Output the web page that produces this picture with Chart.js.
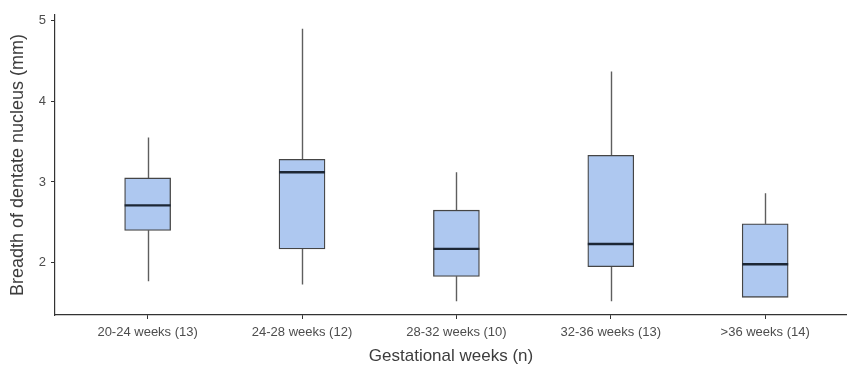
<!DOCTYPE html>
<html>
<head>
<meta charset="utf-8">
<script src="https://cdn.jsdelivr.net/npm/chart.js@4"></script>
<style>
  body { margin: 0; background: #fff; }
  #wrap { width: 847px; height: 367px; }
</style>
</head>
<body>
<div id="wrap"><canvas id="chart"></canvas></div>
<script>
// values (mm)
const categories = ['20-24 weeks (13)', '24-28 weeks (12)', '28-32 weeks (10)', '32-36 weeks (13)', '>36 weeks (14)'];
const whiskerLow = [1.77, 1.73, 1.52, 1.52, 1.57];
const q1 = [2.40, 2.17, 1.83, 1.95, 1.57];
const median = [2.71, 3.12, 2.17, 2.23, 1.98];
const q3 = [3.05, 3.28, 2.65, 3.33, 2.48];
const whiskerHigh = [3.55, 4.90, 3.12, 4.37, 2.86];
const yTicks = [2, 3, 4, 5];

const FONT = "'Liberation Sans', Arial, sans-serif";

// whiskers go behind the boxes, medians on top
const boxParts = {
  id: 'boxParts',
  beforeDatasetsDraw(chart) {
    const { ctx, scales: { x, y } } = chart;
    ctx.save();
    ctx.strokeStyle = '#5e5e5e';
    ctx.lineWidth = 1.4;
    categories.forEach((c, i) => {
      const px = Math.round(x.getPixelForValue(i + 1)) + 0.5;
      ctx.beginPath();
      ctx.moveTo(px, y.getPixelForValue(whiskerHigh[i]));
      ctx.lineTo(px, y.getPixelForValue(q3[i]));
      ctx.moveTo(px, y.getPixelForValue(q1[i]));
      ctx.lineTo(px, y.getPixelForValue(whiskerLow[i]));
      ctx.stroke();
    });
    ctx.restore();
  },
  afterDatasetsDraw(chart) {
    const { ctx, scales: { y } } = chart;
    const meta = chart.getDatasetMeta(0);
    ctx.save();
    ctx.strokeStyle = '#1d2735';
    ctx.lineWidth = 2.4;
    meta.data.forEach((bar, i) => {
      const half = bar.width / 2;
      const py = y.getPixelForValue(median[i]);
      ctx.beginPath();
      ctx.moveTo(bar.x - half, py);
      ctx.lineTo(bar.x + half, py);
      ctx.stroke();
    });
    ctx.restore();
  }
};

new Chart(document.getElementById('chart'), {
  type: 'bar',
  data: {
    datasets: [{
      data: categories.map((c, i) => ({ x: i + 1, y: [q1[i], q3[i]] })),
      backgroundColor: '#aec8f0',
      borderColor: '#454545',
      borderWidth: 1.3,
      borderSkipped: false,
      barThickness: 46
    }]
  },
  options: {
    responsive: true,
    maintainAspectRatio: false,
    animation: false,
    layout: { padding: { top: 15, left: 0, right: 0, bottom: 0 } },
    plugins: { legend: { display: false }, tooltip: { enabled: false } },
    scales: {
      x: {
        type: 'linear',
        offset: false,
        min: 0.4,
        max: 5.53,
        afterBuildTicks: s => { s.ticks = categories.map((c, i) => ({ value: i + 1 })); },
        afterFit: s => { s.height = 52; },
        border: { display: true, color: '#333', width: 1.2 },
        grid: { offset: false, drawOnChartArea: false, drawTicks: true, tickLength: 4, color: '#333' },
        ticks: {
          autoSkip: false,
          maxRotation: 0,
          padding: 6,
          color: '#4d4d4d',
          font: { family: FONT, size: 13 },
          callback: v => categories[v - 1]
        },
        title: {
          display: true,
          text: 'Gestational weeks (n)',
          color: '#3d3d3d',
          font: { family: FONT, size: 17 },
          padding: { top: 0, bottom: 0 }
        }
      },
      y: {
        min: 1.351,
        max: 5.069,
        afterBuildTicks: s => { s.ticks = yTicks.map(v => ({ value: v })); },
        afterFit: s => { s.width = 55; },
        border: { display: true, color: '#333', width: 1.2 },
        grid: { drawOnChartArea: false, drawTicks: true, tickLength: 4, color: '#333' },
        ticks: {
          padding: 5,
          color: '#4d4d4d',
          font: { family: FONT, size: 13 }
        },
        title: {
          display: true,
          text: 'Breadth of dentate nucleus (mm)',
          color: '#3d3d3d',
          font: { family: FONT, size: 18 },
          padding: { top: 7, bottom: 0 }
        }
      }
    }
  },
  plugins: [boxParts]
});
</script>
</body>
</html>
